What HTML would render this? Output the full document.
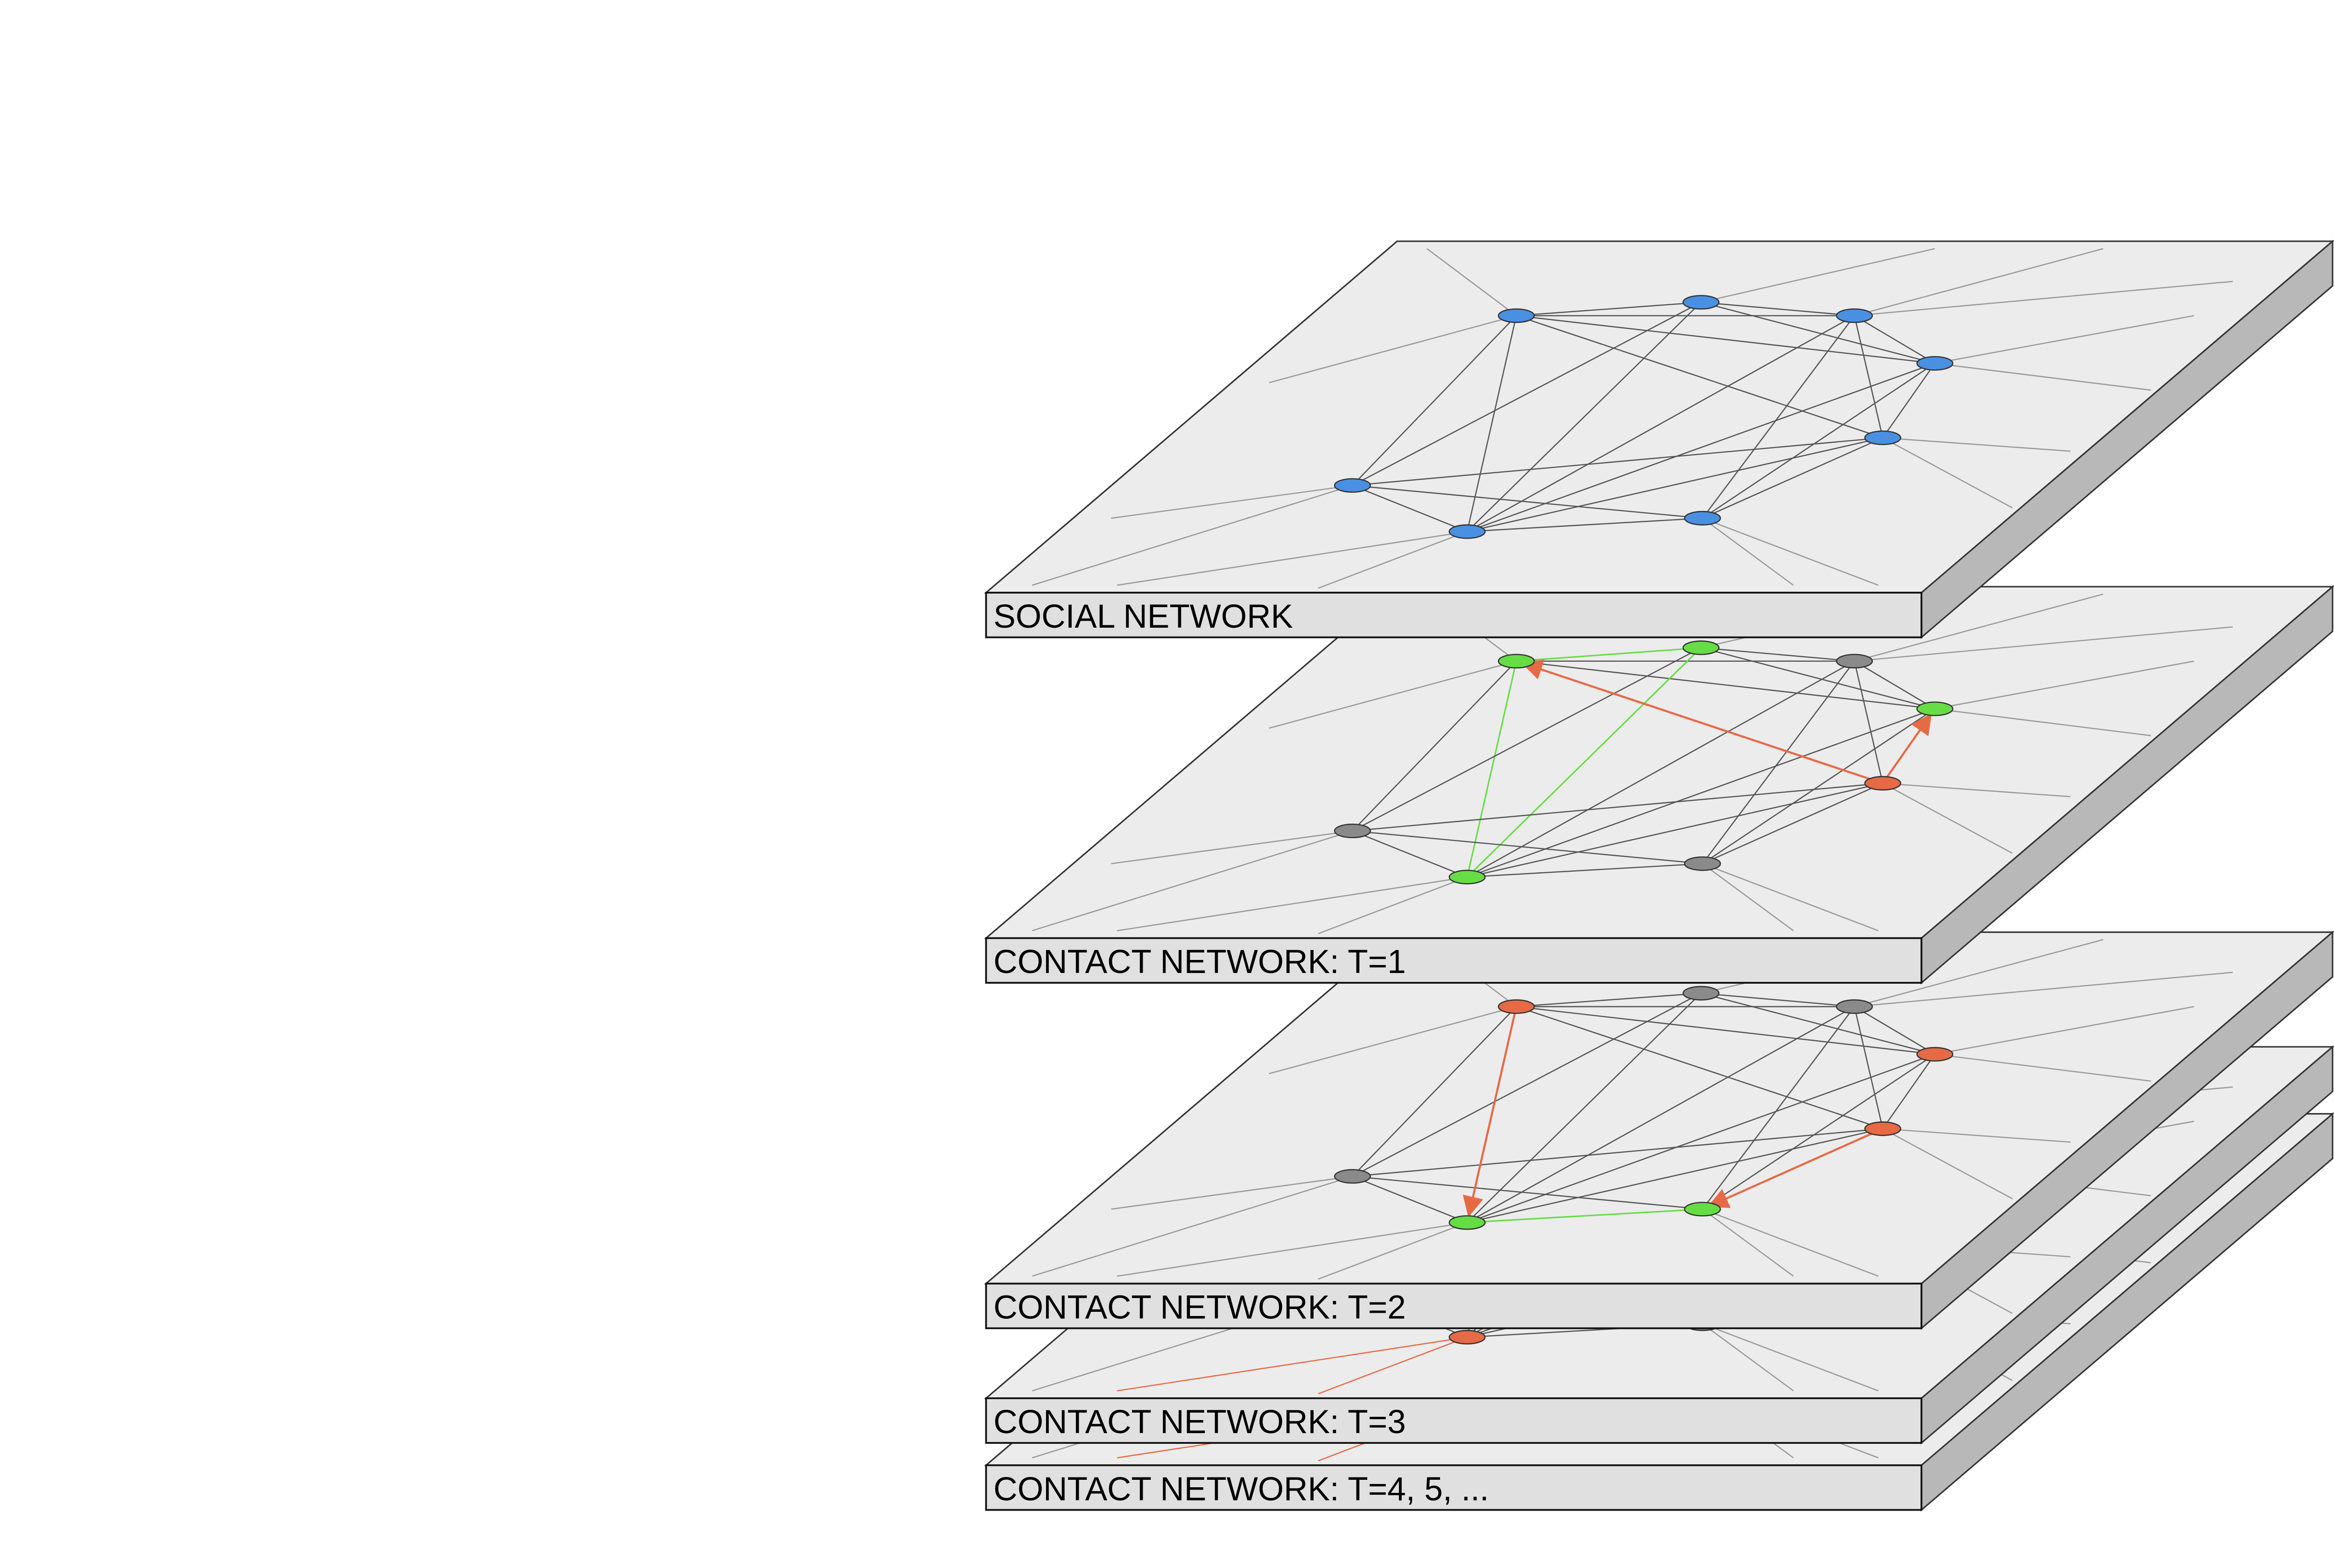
<!DOCTYPE html>
<html><head><meta charset="utf-8"><style>
html,body{margin:0;padding:0;background:#fff;width:5187px;height:3360px;overflow:hidden}
svg{display:block}
</style></head><body>
<svg id="chart" xmlns="http://www.w3.org/2000/svg" width="5187" height="3360" viewBox="0 0 1625 1053" preserveAspectRatio="xMinYMin meet"></svg>
<script>
const NS="http://www.w3.org/2000/svg";
const nodeIds=["A","B","C","D","E","F","G","H"];
const nodeX=[1018,1142,1245,1299,1264,908,985,1143];
const nodeY=[212,203,212,244,294,326,357,348];
const edgeFrom=["A","A","B","A","A","A","A","B","B","B","C","C","C","C","D","D","D","E","E","E","F","F","G"];
const edgeTo=  ["B","C","C","D","E","G","F","D","G","F","D","E","G","H","G","H","E","F","G","H","G","H","H"];
const dangNode=["A","A","B","C","C","D","D","E","E","F","F","G","G","H","H"];
const dangX=[958,852,1299,1412,1499,1473,1444,1390,1351,746,693,750,885,1204,1261];
const dangY=[167,257,167,167,189,212,262,303,341,348,393,393,395,393,393];
const layerNames=["SOCIAL NETWORK","CONTACT NETWORK: T=1","CONTACT NETWORK: T=2","CONTACT NETWORK: T=3","CONTACT NETWORK: T=4, 5, ..."];
const layerOffsets=[0,232,464,541,586];
const layerNodeColors=[
 ["blue","blue","blue","blue","blue","blue","blue","blue"],
 ["green","green","gray","green","orange","gray","green","gray"],
 ["orange","gray","gray","orange","orange","gray","green","green"],
 ["gray","gray","gray","gray","gray","gray","orange","gray"],
 ["gray","gray","gray","gray","gray","gray","orange","gray"]];
const layerGreenEdges=[[],[["A","G"],["B","G"],["A","B"]],[["G","H"]],[],[]];
const layerArrows=[[],[["E","A"],["E","D"]],[["A","G"],["E","H"]],[],[]];
const palette={blue:"#4a90e2",green:"#66dd44",gray:"#8a8a8a",orange:"#e66a45"};
const svg=document.getElementById("chart");
function mk(tag,attrs,parent){const e=document.createElementNS(NS,tag);for(const k in attrs)e.setAttribute(k,attrs[k]);parent.appendChild(e);return e;}
const defs=mk("defs",{},svg);
const mrk=mk("marker",{id:"arr",viewBox:"0 0 10 10",refX:"9",refY:"5",markerWidth:"14",markerHeight:"14",orient:"auto",markerUnits:"userSpaceOnUse"},defs);
mk("path",{d:"M0,0 L10,5 L0,10 Z",fill:"#e66a45"},mrk);
function idx(id){return nodeIds.indexOf(id);}
function has(list,a,b){return list.some(p=>(p[0]===a&&p[1]===b)||(p[0]===b&&p[1]===a));}
for(let L=layerNames.length-1;L>=0;L--){
  const g=mk("g",{transform:`translate(0,${layerOffsets[L]})`},svg);
  
  
  const top=mk("polygon",{points:"938,162 1566,162 1290,398 662,398",fill:"#ececec",stroke:"#333","stroke-width":"1"},g);
  
  
  const side=mk("polygon",{points:"1290,398 1566,162 1566,192 1290,428",fill:"#b8b8b8",stroke:"#333","stroke-width":"1"},g);
  
  
  const cols=layerNodeColors[L];
  for(let i=0;i<dangNode.length;i++){
    const n=idx(dangNode[i]);
    const c=(L>=3&&dangNode[i]==="G")?"#e66a45":"#999";
    const ln=mk("line",{x1:nodeX[n],y1:nodeY[n],x2:dangX[i],y2:dangY[i],stroke:c,"stroke-width":"0.8"},g);
    
    
  }
  for(let i=0;i<edgeFrom.length;i++){
    const a=edgeFrom[i],b=edgeTo[i];
    if(has(layerArrows[L],a,b))continue;
    const green=has(layerGreenEdges[L],a,b);
    const ln=mk("line",{x1:nodeX[idx(a)],y1:nodeY[idx(a)],x2:nodeX[idx(b)],y2:nodeY[idx(b)],stroke:green?"#66dd44":"#555","stroke-width":green?"1":"0.8"},g);
    
    
  }
  for(const [a,b] of layerArrows[L]){
    const x1=nodeX[idx(a)],y1=nodeY[idx(a)],x2=nodeX[idx(b)],y2=nodeY[idx(b)];
    const d=Math.hypot(x2-x1,y2-y1),s=(d-5)/d;
    const ln=mk("line",{x1,y1,x2:x1+(x2-x1)*s,y2:y1+(y2-y1)*s,stroke:"#e66a45","stroke-width":"1.4","marker-end":"url(#arr)"},g);
    
    
  }
  for(let n=0;n<nodeIds.length;n++){
    const e=mk("ellipse",{cx:nodeX[n],cy:nodeY[n],rx:"12",ry:"4.5",fill:palette[cols[n]],stroke:"#333","stroke-width":"0.8"},g);
    
    
  }
  const front=mk("rect",{x:662,y:398,width:628,height:30,fill:"#e0e0e0",stroke:"#111","stroke-width":"1.2"},g);
  
  
  const t=mk("text",{x:667,y:421.5,"font-family":"Liberation Sans, sans-serif","font-size":"22.3",fill:"#000"},g);
  t.textContent=layerNames[L];
  
  
}
</script>
</body></html>
